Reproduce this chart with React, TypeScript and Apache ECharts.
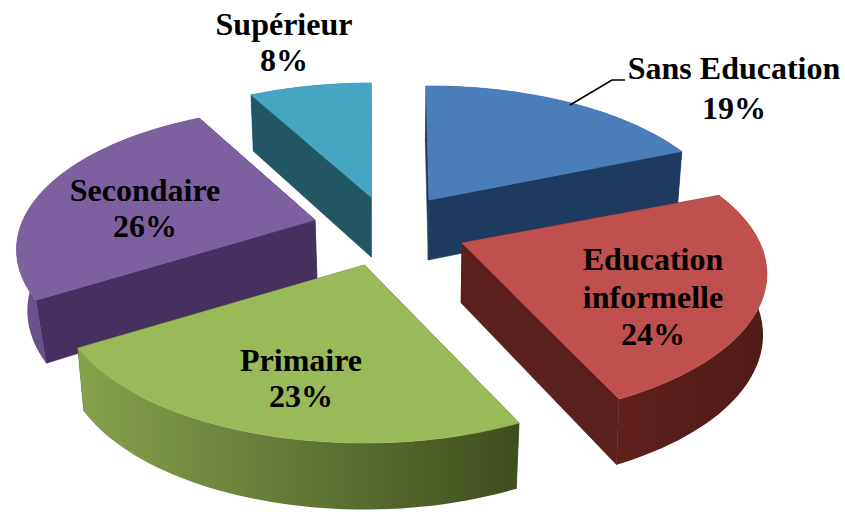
import React, { useEffect, useRef } from "react";
import * as echarts from "echarts";

// ---- data
const categories = ["Sans Education", "Education informelle", "Primaire", "Secondaire", "Supérieur"];
const shares = [19, 24, 23, 26, 8];
const labelLines = [["Sans Education"], ["Education", "informelle"], ["Primaire"], ["Secondaire"], ["Supérieur"]];

// ---- styling of each slice (exploded apex, paint order, colours)
const apexX = [429, 462, 364.5, 315, 371];
const apexY = [200, 243, 265, 220, 197];
const paintOrder = [2, 3, 4, 1, 0];
const radiusScale = [1, 1.01, 1.015, 0.99, 1];
const rotations = [-0.7, 0, 0.6, 0.8, 0];
const skews = [0.015, 0.01, 0.02, 0.03, 0.018];
const topColors = ["#4a7ebb", "#c0504d", "#9aba59", "#7d60a0", "#46a5c3"];
const cutWallColors = ["#1f3a5f", "#5b1f1d", "#4d6226", "#463060", "#215663"];
const rimColors: [string, string][] = [
  ["#1f3a5f", "#1f3a5f"],
  ["#5f201e", "#4f1b19"],
  ["#86a24c", "#3f4d1d"],
  ["#6e5491", "#46305f"],
  ["#215663", "#215663"],
];
const labelCx = [734, 653, 301, 145, 284];
const labelCy = [88, 296.5, 378, 208, 42];
const labelLineHeight = [40, 37.5, 36, 36, 36];

// ---- projection of the tilted disc
const RX = 295;
const RY = 138;
const PERSPECTIVE = 0.21;
const THICKNESS = 60;
const VANISH_X = 380;
const SAMPLES = 48;

const total = shares.reduce((a, b) => a + b, 0);
const starts = shares.map((_, i) => shares.slice(0, i).reduce((a, b) => a + b, 0));

function project(i: number, deg: number, r: number): number[] {
  const a = ((deg + rotations[i]) * Math.PI) / 180;
  const x = Math.sin(a) * r * radiusScale[i];
  const y = Math.cos(a) * r * radiusScale[i];
  const s = 1 / (1 + PERSPECTIVE * y);
  return [apexX[i] + RX * x * s, apexY[i] - RY * y * s, s];
}

function lower(i: number, p: number[]): number[] {
  const h = THICKNESS * (0.6 + 0.4 * p[2]);
  return [p[0] + (VANISH_X - p[0]) * skews[i], p[1] + h];
}

function renderSlice(params: any, api: any) {
  const i = params.dataIndex;
  const value = api.value(0);
  const a0 = (starts[i] / total) * 360;
  const a1 = a0 + (value / total) * 360;
  const arc: number[][] = [];
  for (let k = 0; k <= SAMPLES; k++) arc.push(project(i, a0 + ((a1 - a0) * k) / SAMPLES, 1));
  const apex = project(i, a0, 0);
  const arcLow = arc.map((p) => lower(i, p));
  const apexLow = lower(i, apex);
  const top = [[apex[0], apex[1]], ...arc.map((p) => [p[0], p[1]])];
  const outer = [...arc.map((p) => [p[0], p[1]]), ...arcLow.slice().reverse()];
  const wallA = [[apex[0], apex[1]], [arc[0][0], arc[0][1]], arcLow[0], apexLow];
  const last = arc.length - 1;
  const wallB = [[apex[0], apex[1]], [arc[last][0], arc[last][1]], arcLow[last], apexLow];
  const base = paintOrder[i] * 10;
  const poly = (points: number[][], fill: any, z: number, strokeColor: string | null) => ({
    type: "polygon",
    z2: base + z,
    shape: { points },
    style: strokeColor ? { fill, stroke: strokeColor, lineWidth: 0.6 } : { fill },
    silent: true,
  });
  return {
    type: "group",
    children: [
      poly(wallA, cutWallColors[i], 0, cutWallColors[i]),
      poly(wallB, cutWallColors[i], 1, cutWallColors[i]),
      poly(
        outer,
        {
          type: "linear",
          x: 0,
          y: 0,
          x2: 1,
          y2: 0,
          colorStops: [
            { offset: 0, color: rimColors[i][0] },
            { offset: 1, color: rimColors[i][1] },
          ],
        },
        2,
        null,
      ),
      poly(top, topColors[i], 3, topColors[i]),
    ],
  };
}

export default function App() {
  const ref = useRef<HTMLDivElement>(null);
  useEffect(() => {
    const chart = echarts.init(ref.current!, null, { renderer: "svg" });
    chart.setOption({
      animation: false,
      backgroundColor: "#ffffff",
      series: [
        {
          type: "custom",
          coordinateSystem: "none",
          name: "Niveau d'éducation",
          data: shares.map((v, i) => ({ name: categories[i], value: [v] })),
          renderItem: renderSlice,
          silent: true,
          clip: false,
        },
      ],
      graphic: [
        {
          type: "polyline",
          z: 20,
          shape: { points: [[570, 105], [612, 80], [625, 80]] },
          style: { stroke: "#000000", lineWidth: 1.6, fill: "none" },
          silent: true,
        },
        ...categories.map((_, i) => ({
          type: "text",
          z: 30,
          x: labelCx[i],
          y: labelCy[i],
          silent: true,
          style: {
            text: [...labelLines[i], `${shares[i]}%`].join("\n"),
            fill: "#000000",
            font: 'bold 32px "Liberation Serif", "Times New Roman", serif',
            lineHeight: labelLineHeight[i],
            align: "center",
            verticalAlign: "middle",
          },
        })),
      ],
    });
    return () => chart.dispose();
  }, []);
  return <div ref={ref} style={{ position: "absolute", left: 0, top: 0, width: 845, height: 512 }} />;
}
